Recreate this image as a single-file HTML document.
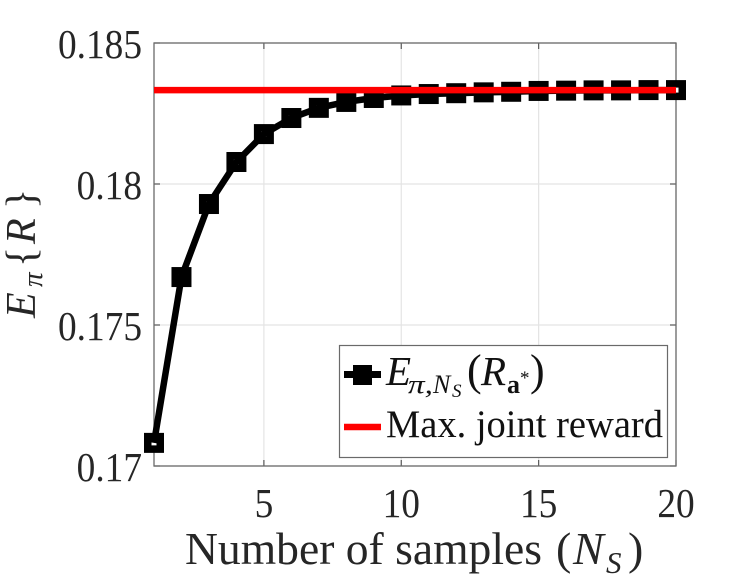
<!DOCTYPE html>
<html>
<head>
<meta charset="utf-8">
<style>
html,body{margin:0;padding:0;background:#fff;}
svg{display:block;font-family:"Liberation Serif",serif;}
text{fill:#262626;}
.it{font-style:italic;}
.lg{fill:#111;}
</style>
</head>
<body>
<svg id="chart" width="747" height="581" viewBox="0 0 747 581" xmlns="http://www.w3.org/2000/svg">
  <rect x="154" y="43" width="522" height="423" fill="#fff"/>
  <g id="grid"></g>
  <g id="ticks"></g>
  <rect x="154" y="43" width="522" height="423" fill="none" stroke="#6a6a6a" stroke-width="1.3"/>
  <g id="labels"></g>
  <g id="series"></g>

  <text y="564" font-size="46"><tspan x="185" textLength="357" lengthAdjust="spacingAndGlyphs">Number of samples</tspan><tspan x="556">(</tspan><tspan x="573" class="it">N</tspan><tspan x="606" y="573" font-size="31" class="it">S</tspan><tspan x="628" y="564">)</tspan></text>
  <g transform="translate(35,318) rotate(-90)">
    <text font-size="42"><tspan x="0" class="it">E</tspan><tspan x="31" y="7" font-size="29" class="it">π</tspan><tspan x="51" y="0">{</tspan><tspan x="74" class="it">R</tspan><tspan x="109">}</tspan></text>
  </g>

  <g>
    <rect x="339.500" y="345.500" width="328" height="112" fill="#fff" stroke="#6a6a6a" stroke-width="1.2"/>
    <line x1="344" x2="381" y1="374.500" y2="374.500" stroke="#000" stroke-width="7"/>
    <rect x="353" y="365" width="19" height="20" fill="#000"/>
    <text class="lg" y="385" font-size="41"><tspan class="lg it" x="386">E</tspan><tspan class="lg it" x="408" y="393" font-size="26" textLength="25" lengthAdjust="spacingAndGlyphs">π,</tspan><tspan class="lg it" x="433" y="393" font-size="26">N</tspan><tspan class="lg it" x="452" y="397" font-size="19">S</tspan><tspan class="lg" x="467" y="385" font-size="44">(</tspan><tspan class="lg it" x="481" y="385">R</tspan><tspan class="lg" x="507" y="393" font-size="26" font-weight="bold">a</tspan><tspan class="lg" x="520" y="384" font-size="19">*</tspan><tspan class="lg" x="530" y="385" font-size="44">)</tspan></text>
    <line x1="344" x2="381" y1="427" y2="427" stroke="#f00" stroke-width="6.500"/>
    <text class="lg" x="386" y="437" font-size="39" textLength="277" lengthAdjust="spacingAndGlyphs">Max. joint reward</text>
  </g>
</svg>
<script>
const samples = [1,2,3,4,5,6,7,8,9,10,11,12,13,14,15,16,17,18,19,20];
const expectedReward = [0.17082,0.1767,0.17929,0.18078,0.18177,0.18234,0.1827,0.18291,0.18305,0.18314,0.18319,0.18322,0.18325,0.18327,0.1833,0.18331,0.18332,0.18332,0.18333,0.18333];
const maxReward = [0.18333,0.18333];
const xTicks = [5,10,15,20];
const yTicks = [0.17,0.175,0.18,0.185];
const yTickLabels = ['0.17','0.175','0.18','0.185'];

const NS = 'http://www.w3.org/2000/svg';
const L = 154, R = 676, T = 43, B = 466;
const xMin = 1, xMax = 20, yMin = 0.17, yMax = 0.185;
function xScale(v){ return L + (v - xMin) / (xMax - xMin) * (R - L); }
function yScale(v){ return B - (v - yMin) / (yMax - yMin) * (B - T); }
function make(tag, attrs, parent){
  const el = document.createElementNS(NS, tag);
  for (const k in attrs) el.setAttribute(k, attrs[k]);
  parent.appendChild(el);
  return el;
}
const grid = document.getElementById('grid');
const ticks = document.getElementById('ticks');
const labels = document.getElementById('labels');
const series = document.getElementById('series');

xTicks.forEach(function(v){
  const x = xScale(v);
  const g = make('line', {x1:x, x2:x, y1:T, y2:B, stroke:'#e4e4e4', 'stroke-width':1.2}, grid);
  
  
  [[T, T+6],[B-6, B]].forEach(function(p){
    const t = make('line', {x1:x, x2:x, y1:p[0], y2:p[1], stroke:'#5a5a5a', 'stroke-width':1.2}, ticks);
    
    
  });
  const s = make('text', {transform:'translate(' + x + ',517) scale(0.9,1)', 'font-size':41.500, 'text-anchor':'middle'}, labels);
  
  
  s.textContent = String(v);
});
yTicks.forEach(function(v, i){
  const y = yScale(v);
  const g = make('line', {x1:L, x2:R, y1:y, y2:y, stroke:'#e4e4e4', 'stroke-width':1.2}, grid);
  
  
  [[L, L+6],[R-6, R]].forEach(function(p){
    const t = make('line', {x1:p[0], x2:p[1], y1:y, y2:y, stroke:'#5a5a5a', 'stroke-width':1.2}, ticks);
    
    
  });
  const s = make('text', {transform:'translate(142,' + (y + 15) + ') scale(0.9,1)', 'font-size':41.500, 'text-anchor':'end'}, labels);
  
  
  s.textContent = yTickLabels[i];
});

samples.forEach(function(v, i){
  const cx = xScale(v), cy = yScale(expectedReward[i]);
  const m = make('rect', {x:cx-6.250, y:cy-6.250, width:12.500, height:12.500, fill:'#fff', stroke:'#000', 'stroke-width':7.500}, series);
  
  
});

const pts = samples.map(function(v, i){ return xScale(v) + ',' + yScale(expectedReward[i]); }).join(' ');
const line = make('polyline', {points:pts, fill:'none', stroke:'#000', 'stroke-width':6.500, 'stroke-linejoin':'round'}, series);



const red = make('line', {x1:xScale(xMin), x2:xScale(xMax), y1:yScale(maxReward[0]), y2:yScale(maxReward[1]), stroke:'#f00', 'stroke-width':6.500}, series);


</script>
</body>
</html>
